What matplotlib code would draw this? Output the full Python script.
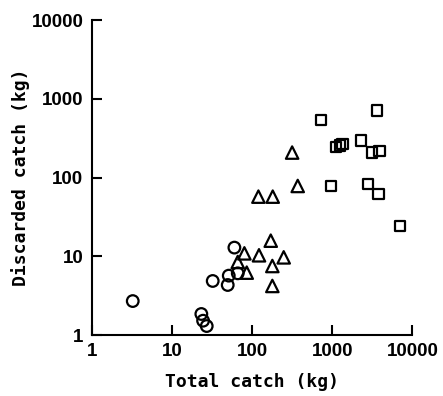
import matplotlib
matplotlib.use("Agg")
import matplotlib.pyplot as plt
from matplotlib.ticker import FixedLocator, NullLocator

# circles
circ_x = [3.25, 23.3, 24.5, 27.2, 32.3, 49.7, 51.2, 60.2, 66.3]
circ_y = [2.7, 1.85, 1.52, 1.30, 4.86, 4.32, 5.68, 12.9, 6.08]
# triangles
tri_x = [66.3, 80.2, 85.8, 122, 120, 181, 171, 179, 179, 248, 316, 371]
tri_y = [8.47, 10.9, 6.2, 10.3, 57.3, 57.3, 15.8, 7.53, 4.2, 9.7, 208, 78.3]
# squares
sq_x = [726, 958, 1117, 1253, 1340, 2268, 2800, 3140, 3590, 3873, 3770, 7015]
sq_y = [541, 78, 243, 255, 265, 295, 83, 208, 711, 218, 61.4, 24.1]

ticks = [1, 10, 100, 1000, 10000]
tick_labels = ["1", "10", "100", "1000", "10000"]

fig = plt.figure(figsize=(4.43, 3.96), dpi=100)
ax = fig.add_axes([0.207, 0.154, 0.724, 0.795])

mk = dict(facecolor="none", edgecolor="black", linewidths=1.6, clip_on=False)
ax.scatter(circ_x, circ_y, marker="o", s=70, **mk)
ax.scatter(tri_x, tri_y, marker="^", s=80, **mk)
ax.scatter(sq_x, sq_y, marker="s", s=55, **mk)

ax.set_xscale("log")
ax.set_yscale("log")
ax.set_xlim(1, 10000)
ax.set_ylim(1, 10000)
ax.xaxis.set_major_locator(FixedLocator(ticks))
ax.yaxis.set_major_locator(FixedLocator(ticks))
ax.xaxis.set_minor_locator(NullLocator())
ax.yaxis.set_minor_locator(NullLocator())

tick_font = dict(family="Liberation Sans", weight="bold", size=13.5)
ax.set_xticklabels(tick_labels, fontdict=tick_font)
ax.set_yticklabels(tick_labels, fontdict=tick_font)
ax.tick_params(direction="in", length=7, width=1.5, pad=6)

for s in ["top", "right"]:
    ax.spines[s].set_visible(False)
for s in ["left", "bottom"]:
    ax.spines[s].set_linewidth(1.5)

lab_font = dict(family="DejaVu Sans Mono", weight="bold", size=13)
ax.set_xlabel("Total catch (kg)", fontdict=lab_font, labelpad=9)
ax.set_ylabel("Discarded catch (kg)", fontdict=lab_font, labelpad=1)

fig.savefig("out.png", dpi=100)
